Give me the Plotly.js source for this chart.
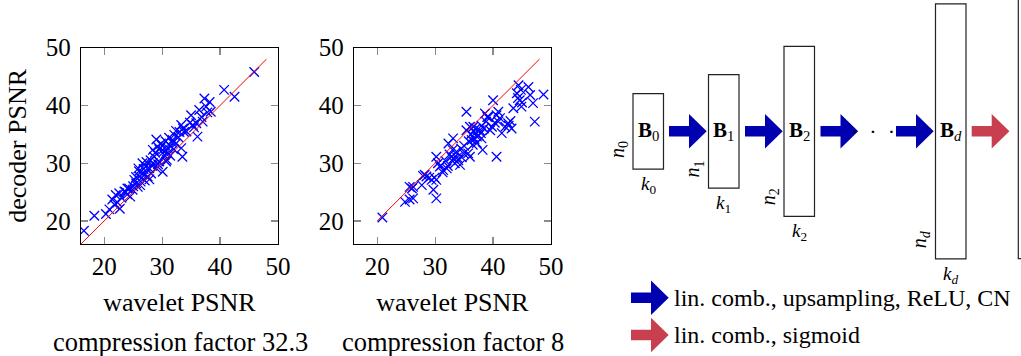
<!DOCTYPE html>
<html><head><meta charset="utf-8">
<script src="https://cdn.plot.ly/plotly-3.0.1.min.js"></script>
<style>html,body{margin:0;padding:0;background:#fff}</style>
</head><body><div id="chart" style="width:1021px;height:356px"></div>
<script>
// ---- data: compression factor 32.3 ----
const wavelet32 = [16.5,18.3,20.3,20.9,22.7,21.4,22.0,22.6,23.5,24.0,24.3,24.9,25.5,25.2,26.1,26.3,26.6,25.9,27.2,26.6,
  27.5,28.1,27.8,28.4,29.0,28.6,28.4,29.2,29.0,29.8,30.1,30.4,30.1,29.5,30.7,31.0,31.5,31.8,32.1,33.0,
  33.3,32.4,33.3,33.5,33.8,35.0,35.3,35.9,36.1,36.4,37.0,37.3,37.6,38.2,38.4,40.7,42.5,45.9,23.0,24.0,
  25.0,25.5,26.0,26.8,27.0,27.3,28.0,28.8,29.5,30.0,30.3,30.6,31.0,31.2,31.7,32.4,32.8,33.6,34.2,34.8,
  22.3,21.8,24.5,26.2,27.8,29.3,25.8,28.3,31.4,30.8,23.7,35.5,36.8,37.8,32.0,27.0];
const decoder32 = [18.3,20.9,21.2,22.0,22.1,23.7,24.5,24.8,25.1,24.6,25.6,25.4,26.5,27.1,27.7,26.8,28.2,29.1,29.4,30.0,
  27.7,28.2,29.1,30.0,29.1,31.1,32.3,32.9,34.1,33.4,32.3,31.4,28.5,30.3,30.3,31.7,32.9,34.0,34.9,35.4,
  36.6,33.4,32.6,31.1,35.4,38.3,36.6,36.9,34.6,39.2,37.2,41.2,39.8,40.6,38.9,42.7,41.5,45.8,24.0,25.6,
  26.0,27.6,28.6,29.0,28.0,30.2,30.5,31.8,32.4,33.0,32.0,33.8,32.6,34.4,33.6,35.6,34.5,36.0,35.5,37.0,
  23.2,22.8,24.2,26.2,27.2,29.8,25.9,29.5,31.3,30.6,25.0,36.2,38.0,38.8,32.4,27.0];
// ---- data: compression factor 8 ----
const wavelet8 = [20.9,24.8,25.6,26.2,25.6,26.2,27.7,28.2,28.5,29.4,29.7,30.2,30.2,30.2,30.8,31.4,32.0,32.3,33.1,32.8,
  33.4,33.7,34.0,34.3,34.9,35.4,35.4,35.7,36.0,36.3,36.6,36.9,37.2,37.7,38.0,38.2,38.6,39.2,39.5,40.0,
  40.6,40.6,40.9,40.9,41.5,42.1,42.6,43.2,43.5,44.4,44.1,44.6,44.9,46.1,46.4,46.9,47.2,48.7,31.0,31.8,
  32.5,33.0,33.8,34.5,32.2,30.5,29.0,27.9,36.2,36.8,37.5,37.0,38.4,37.9,36.5,35.8,38.8,39.8,41.2,40.3,
  43.0,44.3,45.0,44.8,42.7,34.6,33.2,35.0,36.0,37.2,39.0,29.9,26.0,31.3,38.0];
const decoder8 = [20.6,23.3,23.7,23.9,25.9,25.9,26.2,28.0,27.7,27.1,25.4,23.9,27.1,31.1,29.4,28.8,29.1,33.4,34.3,31.1,
  30.0,32.0,30.5,29.7,31.7,38.9,35.7,31.7,31.1,34.0,36.3,35.2,34.6,35.7,34.3,32.3,38.6,38.0,35.7,40.9,
  31.1,38.3,38.9,37.2,35.2,36.3,36.9,36.0,39.5,43.5,42.1,40.9,39.8,43.2,41.8,40.4,37.2,41.9,29.6,30.4,
  31.5,32.3,31.0,32.5,29.5,30.0,27.5,27.8,35.0,34.2,34.8,36.0,36.0,35.2,33.2,33.8,37.2,36.3,37.8,37.0,
  37.3,41.3,40.5,42.7,36.5,31.0,30.8,33.0,36.3,33.5,38.0,27.5,25.6,28.4,36.5];
// identity reference lines
const diag32 = [16, 48];
const diag8 = [20, 48];
const tickValues = [20, 30, 40, 50];
const tickLabels = ['20', '30', '40', '50'];
const subCaptions = ['compression factor 32.3', 'compression factor 8'];

// ---- diagram content ----
const boxLabels = ['<b>B</b><sub>0</sub>', '<b>B</b><sub>1</sub>', '<b>B</b><sub>2</sub>', '<b>B</b><sub><i>d</i></sub>'];
const nLabels = ['<i>n</i><sub>0</sub>', '<i>n</i><sub>1</sub>', '<i>n</i><sub>2</sub>', '<i>n</i><sub><i>d</i></sub>'];
const kLabels = ['<i>k</i><sub>0</sub>', '<i>k</i><sub>1</sub>', '<i>k</i><sub>2</sub>', '<i>k</i><sub><i>d</i></sub>'];
const legendTexts = ['lin. comb., upsampling, ReLU, CN', 'lin. comb., sigmoid'];

// ---- geometry / styles (diagram in pixel-like units) ----
const FONT = "'Liberation Serif', 'Times New Roman', serif";
const BLUE = '#0000b0', RED = '#c84050';
const W = 1021, H = 356;
const G = {
  boxLeft: [633, 708.5, 784, 935.5], boxH: [75.5, 113.5, 170, 255], boxW: 30.5, cy: 131.3,
  arrowX: [669, 745, 820.5, 896], redArrowX: 971.7,
  legArrowX: 631, legY: [297.7, 335], legTextX: 672
};

function arrowPath(x0, yc) {
  const s = 5.2, h = 17.3, L1 = 20, L = 37.7;
  return `M${x0},${yc - s} L${x0 + L1},${yc - s} L${x0 + L1},${yc - h} L${x0 + L},${yc} L${x0 + L1},${yc + h} L${x0 + L1},${yc + s} L${x0},${yc + s} Z`;
}

const traces = [
  {x: wavelet32, y: decoder32, mode: 'markers', type: 'scatter', xaxis: 'x', yaxis: 'y',
   marker: {symbol: 'x-thin', size: 9.5, color: '#0000ff', line: {color: '#0000ff', width: 1.3}}, hoverinfo: 'skip'},
  {x: diag32, y: diag32, mode: 'lines', type: 'scatter', xaxis: 'x', yaxis: 'y',
   line: {color: '#ff0000', width: 1}, hoverinfo: 'skip'},
  {x: wavelet8, y: decoder8, mode: 'markers', type: 'scatter', xaxis: 'x2', yaxis: 'y2',
   marker: {symbol: 'x-thin', size: 9.5, color: '#0000ff', line: {color: '#0000ff', width: 1.3}}, hoverinfo: 'skip'},
  {x: diag8, y: diag8, mode: 'lines', type: 'scatter', xaxis: 'x2', yaxis: 'y2',
   line: {color: '#ff0000', width: 1}, hoverinfo: 'skip'}
];

function xAx(d0, d1, anchor) {
  return {domain: [d0 / W, d1 / W], range: [16, 50], anchor: anchor, tickvals: tickValues, ticktext: tickLabels,
    ticks: 'inside', ticklen: 7, tickcolor: '#8a8a8a', tickwidth: 1.2, mirror: 'ticks',
    showline: true, linecolor: '#000', linewidth: 1.2, showgrid: false, zeroline: false,
    tickfont: {family: FONT, size: 25, color: '#000'}, ticklabelstandoff: 0,
    title: {text: 'wavelet PSNR', font: {family: FONT, size: 26, color: '#000'}, standoff: 13}, fixedrange: true};
}
function yAx(anchor, title) {
  const a = {domain: [1 - 244 / H, 1 - 47.7 / H], range: [16, 50], anchor: anchor, tickvals: tickValues, ticktext: tickLabels,
    ticks: 'inside', ticklen: 7, tickcolor: '#8a8a8a', tickwidth: 1.2, mirror: 'ticks',
    showline: true, linecolor: '#000', linewidth: 1.2, showgrid: false, zeroline: false,
    tickfont: {family: FONT, size: 25, color: '#000'}, ticklabelstandoff: 4, fixedrange: true};
  if (title) a.title = {text: title, font: {family: FONT, size: 26, color: '#000'}, standoff: 11};
  return a;
}

const shapes = [];
const annotations = [];
const ann = (o) => annotations.push(Object.assign({xref: 'x3', yref: 'y3', showarrow: false,
  xanchor: 'center', yanchor: 'middle', font: {family: FONT, size: 22, color: '#000'}}, o));

boxLabels.forEach((lab, i) => {
  const x0 = G.boxLeft[i], h = G.boxH[i], y0 = G.cy - h / 2, y1 = G.cy + h / 2;
  shapes.push({type: 'rect', xref: 'x3', yref: 'y3', x0: x0, x1: x0 + G.boxW, y0: y0, y1: y1,
    line: {color: '#222', width: 1.2}, fillcolor: 'rgba(0,0,0,0)'});
  ann({x: x0 + G.boxW / 2, y: G.cy, text: lab, font: {family: FONT, size: 21, color: '#000'}});
  ann({x: x0 - 15, y: y1 - 19, text: nLabels[i], textangle: -90, font: {family: FONT, size: 20, color: '#000'}});
  ann({x: x0 + G.boxW / 2, y: y1 + 16, text: kLabels[i], font: {family: FONT, size: 19, color: '#000'}});
});
// last (cut-off) box
shapes.push({type: 'rect', xref: 'x3', yref: 'y3', x0: 1018.3, x1: 1080, y0: -20, y1: 258.7,
  line: {color: '#222', width: 1.2}, fillcolor: 'rgba(0,0,0,0)'});
G.arrowX.forEach(x => shapes.push({type: 'path', xref: 'x3', yref: 'y3', path: arrowPath(x, G.cy), fillcolor: BLUE, line: {width: 0}}));
shapes.push({type: 'path', xref: 'x3', yref: 'y3', path: arrowPath(G.redArrowX, G.cy), fillcolor: RED, line: {width: 0}});
ann({x: 872.5, y: G.cy, text: '·  ·  ·', font: {family: FONT, size: 22, color: '#000'}});
// legend
shapes.push({type: 'path', xref: 'x3', yref: 'y3', path: arrowPath(G.legArrowX, G.legY[0]), fillcolor: BLUE, line: {width: 0}});
shapes.push({type: 'path', xref: 'x3', yref: 'y3', path: arrowPath(G.legArrowX, G.legY[1]), fillcolor: RED, line: {width: 0}});
legendTexts.forEach((t, i) => ann({x: G.legTextX, y: G.legY[i], text: t, xanchor: 'left',
  font: {family: FONT, size: 24, color: '#000'}}));

// sub-captions
subCaptions.forEach((t, i) => annotations.push({xref: 'paper', yref: 'paper', x: [180, 452.5][i] / W, y: 1 - 342 / H,
  xanchor: 'center', yanchor: 'middle', text: t, showarrow: false, font: {family: FONT, size: 26.5, color: '#000'}}));

const layout = {
  width: W, height: H, margin: {l: 0, r: 0, t: 0, b: 0}, showlegend: false,
  paper_bgcolor: '#fff', plot_bgcolor: '#fff',
  xaxis: xAx(81, 278, 'y'), yaxis: yAx('x', 'decoder PSNR'),
  xaxis2: xAx(354, 551, 'y2'), yaxis2: yAx('x2', null),
  xaxis3: {domain: [595 / W, 1], range: [595, W], anchor: 'y3', visible: false, fixedrange: true},
  yaxis3: {domain: [0, 1], range: [H, 0], anchor: 'x3', visible: false, fixedrange: true},
  shapes: shapes, annotations: annotations
};
Plotly.newPlot('chart', traces, layout, {staticPlot: true, displayModeBar: false});
</script></body></html>
